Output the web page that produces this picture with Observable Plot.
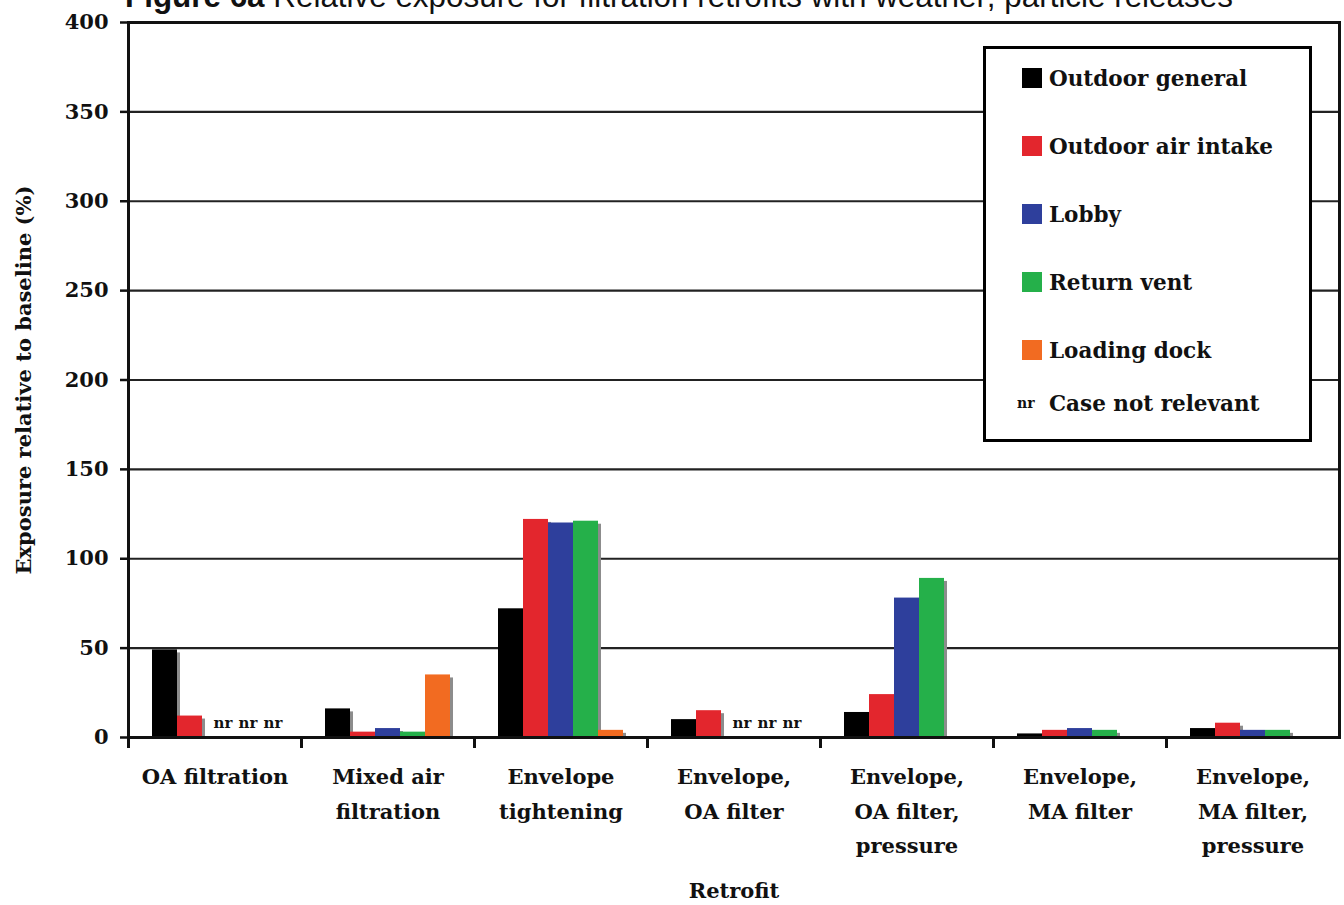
<!DOCTYPE html>
<html><head><meta charset="utf-8">
<script src="https://cdn.jsdelivr.net/npm/d3@7"></script>
<script src="https://cdn.jsdelivr.net/npm/@observablehq/plot@0.6"></script>
<style>
body{margin:0;background:#fff;}
#wrap{position:relative;width:1344px;height:905px;overflow:hidden;background:#fff;}
#title{position:absolute;left:125px;top:-21px;font:31.4px "Liberation Sans",Arial,sans-serif;white-space:nowrap;color:#111;}
#legend{position:absolute;left:983px;top:46px;width:323px;height:390px;border:3px solid #000;background:#fff;font-family:"DejaVu Serif",serif;font-weight:bold;font-size:21.5px;color:#111;}
.row{position:absolute;left:0;height:30px;display:flex;align-items:center;white-space:nowrap;}
.sw{width:20px;height:20px;margin-left:36px;margin-right:7px;}
.nr{width:25px;margin-left:31px;margin-right:7px;font-size:14px;}
</style></head>
<body><div id="wrap"><div id="chart"></div><div id="title"><b>Figure 6a</b> Relative exposure for filtration retrofits with weather; particle releases</div><div id="legend"></div></div>
<script>
const categories = ["OA filtration", "Mixed air\nfiltration", "Envelope\ntightening", "Envelope,\nOA filter", "Envelope,\nOA filter,\npressure", "Envelope,\nMA filter", "Envelope,\nMA filter,\npressure"];
const series = ["Outdoor general", "Outdoor air intake", "Lobby", "Return vent", "Loading dock"];
const colors = ["#000000", "#e3262d", "#2e3f9c", "#25b04a", "#f26b21"];
const outdoorGeneral  = [49, 16, 72, 10, 14, 2, 5];
const outdoorAirIntake = [12, 3, 122, 15, 24, 4, 8];
const lobby           = ["nr", 5, 120, "nr", 78, 5, 4];
const returnVent      = ["nr", 3, 121, "nr", 89, 4, 4];
const loadingDock     = ["nr", 35, 4, "nr", null, null, null];
const yTicks = [0, 50, 100, 150, 200, 250, 300, 350, 400];
const gridValues = [50, 100, 150, 200, 250, 300, 350];
const nrLabel = "nr";
const nrText = "Case not relevant";

const values = [outdoorGeneral, outdoorAirIntake, lobby, returnVent, loadingDock];
const rows = [], nrRows = [];
categories.forEach((c, i) => series.forEach((s, j) => {
  const v = values[j][i];
  if (typeof v === "number") rows.push({category: c, series: s, value: v});
  else if (v === "nr") nrRows.push({category: c, series: s, value: 0});
}));

const serif = "'DejaVu Serif', serif";
const plot = Plot.plot({
  width: 1344, height: 905,
  marginLeft: 126, marginRight: 3, marginTop: 22, marginBottom: 168,
  style: {fontFamily: serif, fontWeight: "bold", background: "#fff", color: "#111"},
  fx: {domain: categories, padding: 0},
  x: {domain: series, paddingInner: 0, paddingOuter: 0.84, axis: null},
  y: {domain: [0, 400]},
  color: {domain: series, range: colors},
  marks: [
    Plot.ruleY(gridValues, {stroke: "#222", strokeWidth: 2.2}),
    Plot.barY(rows, {fx: "category", x: "series", y: "value", fill: "#8c8c8c", dx: 3, insetTop: 3}),
    Plot.barY(rows, {fx: "category", x: "series", y: "value", fill: "series"}),
    Plot.text(nrRows, {fx: "category", x: "series", y: "value", text: () => nrLabel, dy: -14, dx: 8, fontSize: 15, fontWeight: "bold", fill: "#111"}),
    Plot.ruleY([0], {stroke: "#111", strokeWidth: 3}),
    Plot.ruleY([400], {stroke: "#111", strokeWidth: 3}),
    Plot.frame({anchor: "left", insetTop: 715, insetBottom: -9, stroke: "#111", strokeWidth: 3}),
    Plot.frame({facet: "super", stroke: "#111", strokeWidth: 3}),
    Plot.axisY({ticks: yTicks, tickSize: 8, tickPadding: 12, fontSize: 21, fontWeight: "bold", strokeWidth: 2.5,
      label: "Exposure relative to baseline (%)", labelAnchor: "center", labelOffset: 112, labelArrow: false}),
    Plot.axisFx({anchor: "bottom", tickSize: 0, tickPadding: 22, fontSize: 21, fontWeight: "bold", lineHeight: 1.65,
      label: "Retrofit", labelAnchor: "center", labelOffset: 160, labelArrow: false})
  ]
});
document.getElementById("chart").appendChild(plot);

const lg = document.getElementById("legend");
series.forEach((s, i) => {
  const r = document.createElement("div");
  r.className = "row"; r.style.top = (14 + i * 68) + "px";
  r.innerHTML = `<span class="sw" style="background:${colors[i]}"></span><span>${s}</span>`;
  lg.appendChild(r);
});
const r = document.createElement("div");
r.className = "row"; r.style.top = (339) + "px";
r.innerHTML = `<span class="nr">${nrLabel}</span><span>${nrText}</span>`;
lg.appendChild(r);
</script>
</body></html>
